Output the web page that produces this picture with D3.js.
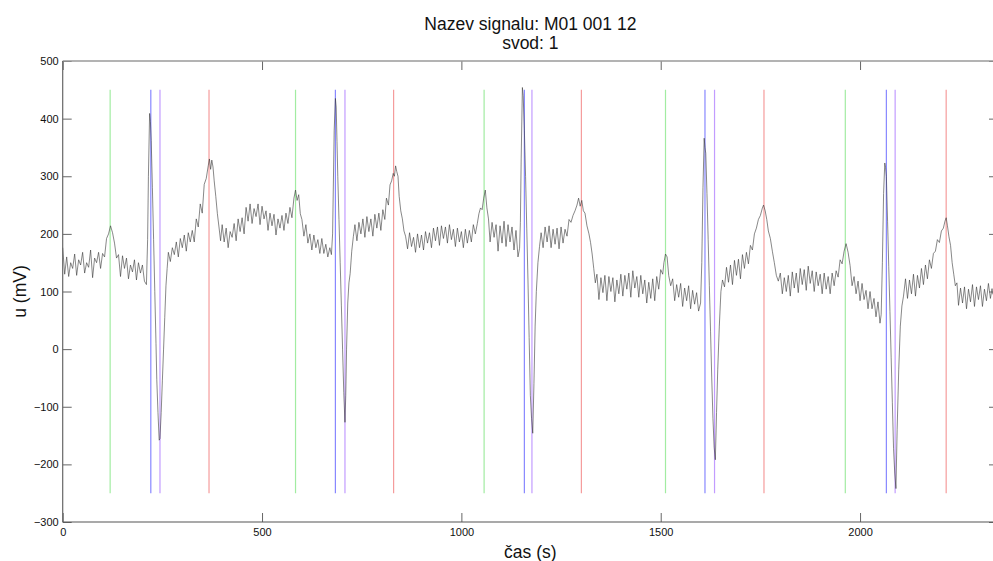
<!DOCTYPE html>
<html>
<head>
<meta charset="utf-8">
<script src="https://cdn.jsdelivr.net/npm/d3@7"></script>
<style>
  html, body { margin: 0; padding: 0; background: #fff; }
  svg { display: block; font-family: "Liberation Sans", Arial, Helvetica, sans-serif; }
</style>
</head>
<body>
<svg id="chart" width="993" height="561"></svg>
<script>
// ECG záznam: [čas (vzorky), u (mV)]
const signal = [
  [0,176],[5,130],[10,160],[15,126],[20,150],[25,140],[30,165],[35,128],[40,155],[45,146],
  [50,168],[55,132],[60,150],[65,142],[70,172],[75,124],[80,158],[85,150],[90,168],[95,140],
  [100,166],[105,160],[110,192],[115,200],[120,214],[125,202],[130,184],[135,158],[140,164],[145,126],
  [150,162],[155,140],[160,158],[165,122],[170,146],[175,134],[180,155],[185,120],[190,150],[195,132],
  [200,146],[205,118],[210,112],
  [213,190],[215,300],[218,409],[220,395],[222,362],[225,280],[228,190],[231,100],[234,10],[236,-53],
  [239,-110],[242,-158],[244,-155],[247,-110],[250,-55],[253,0],[256,55],[259,110],[262,140],
  [265,168],[270,152],[275,176],[280,164],[285,186],[290,160],[295,192],[300,176],[305,198],[310,170],
  [315,202],[320,186],[325,206],[330,186],[335,226],[340,212],[345,252],[350,236],[355,286],[360,296],
  [365,318],[368,330],[371,312],[374,328],[377,316],[380,292],[384,265],[388,235],[392,212],[396,188],
  [400,216],[405,186],[410,210],[415,176],[420,204],[425,194],[430,218],[435,188],[440,226],[445,204],
  [450,228],[455,200],[460,246],[465,222],[470,252],[475,218],[480,244],[485,230],[490,252],[495,216],
  [500,248],[505,226],[510,240],[515,206],[520,236],[525,214],[530,234],[535,198],[540,226],[545,210],
  [550,232],[555,206],[560,236],[565,218],[570,246],[575,228],[580,262],[584,276],[588,258],[592,268],
  [596,235],[600,225],[605,196],[610,216],[615,184],[620,200],[625,172],[630,198],[635,176],[640,190],
  [645,166],[650,192],[655,166],[660,182],[665,160],[670,176],[674,164],
  [677,200],[679,290],[681,380],[684,435],[686,420],[688,360],[690,300],[693,225],[696,150],[699,75],
  [702,0],[705,-75],[708,-127],[710,-80],[712,0],[715,80],[718,115],[721,131],[725,170],[729,195],
  [733,216],[738,188],[743,220],[748,200],[753,226],[758,194],[763,230],[768,204],[773,226],[778,196],
  [783,234],[788,210],[793,236],[798,206],[803,242],[808,225],
  [812,262],[817,250],[821,285],[825,292],[829,305],[832,300],[835,318],[838,308],[841,300],[844,265],
  [848,240],[852,226],[856,205],
  [860,196],[865,174],[870,202],[875,178],[880,194],[885,168],[890,200],[895,176],[900,198],[905,172],
  [910,204],[915,184],[920,202],[925,176],[930,210],[935,188],[940,212],[945,180],[950,214],[955,192],
  [960,212],[965,184],[970,216],[975,190],[980,208],[985,178],[990,210],[995,186],[1000,204],[1005,176],
  [1010,208],[1015,184],[1020,206],[1025,186],[1030,216],[1035,200],
  [1040,218],[1044,235],[1048,245],[1052,242],[1056,262],[1060,276],[1064,245],
  [1068,226],[1072,186],[1077,220],[1082,194],[1087,216],[1092,170],[1097,214],[1102,184],[1107,222],
  [1112,178],[1117,216],[1122,186],[1127,212],[1132,172],[1137,206],[1142,160],[1146,175],
  [1148,220],[1150,330],[1153,454],[1155,440],[1158,380],[1161,300],[1164,210],[1167,120],[1170,20],
  [1173,-80],[1176,-120],[1179,-146],[1182,-60],[1185,40],[1188,100],[1192,150],[1196,178],
  [1200,202],[1205,176],[1210,212],[1215,186],[1220,214],[1225,176],[1230,208],[1235,182],[1240,210],
  [1245,174],[1250,212],[1255,184],[1260,208],[1265,196],[1270,225],
  [1275,220],[1280,232],[1285,240],[1290,250],[1294,262],[1298,248],[1302,258],[1306,240],[1310,236],
  [1315,214],[1320,200],[1324,185],[1328,165],[1332,140],[1336,115],
  [1340,130],[1345,86],[1350,124],[1355,98],[1360,128],[1365,84],[1370,126],[1375,100],[1380,124],
  [1385,82],[1390,120],[1395,96],[1400,130],[1405,92],[1410,128],[1415,104],[1420,132],[1425,90],
  [1430,136],[1435,106],[1440,126],[1445,90],[1450,128],[1455,96],[1460,120],[1465,80],[1470,116],
  [1475,88],[1480,122],[1485,84],[1490,126],[1495,104],[1500,138],[1505,130],
  [1508,150],[1512,165],[1516,160],[1520,128],[1525,110],
  [1530,122],[1535,84],[1540,112],[1545,90],[1550,114],[1555,74],[1560,106],[1565,84],[1570,110],
  [1575,70],[1580,102],[1585,78],[1590,98],[1595,66],[1600,80],
  [1603,150],[1606,280],[1609,366],[1611,350],[1613,340],[1616,270],[1619,190],[1622,110],[1625,30],
  [1628,-50],[1631,-120],[1634,-170],[1637,-192],[1640,-110],[1643,-36],[1647,40],[1651,100],[1655,120],
  [1660,108],[1665,142],[1670,116],[1675,146],[1680,112],[1685,154],[1690,128],[1695,156],[1700,122],
  [1705,164],[1710,140],[1715,168],[1720,148],[1725,180],[1730,172],[1735,200],[1740,210],[1745,225],
  [1750,232],[1755,245],[1758,250],[1762,240],[1766,225],[1770,205],[1775,192],[1780,170],[1785,150],
  [1790,128],[1795,118],
  [1800,132],[1805,96],[1810,124],[1815,100],[1820,128],[1825,92],[1830,134],[1835,106],[1840,132],
  [1845,98],[1850,140],[1855,112],[1860,138],[1865,102],[1870,144],[1875,114],[1880,136],[1885,100],
  [1890,134],[1895,110],[1900,130],[1905,96],[1910,132],[1915,104],[1920,126],[1925,96],[1930,132],
  [1935,110],[1940,136],[1945,125],
  [1950,155],[1955,148],[1960,170],[1965,183],[1970,168],[1975,145],[1980,110],
  [1985,126],[1990,96],[1995,118],[2000,84],[2005,114],[2010,86],[2015,102],[2020,70],[2025,100],
  [2030,70],[2035,88],[2040,56],[2045,82],[2050,45],[2053,60],
  [2056,150],[2059,270],[2062,323],[2064,315],[2066,300],[2069,222],[2072,143],[2075,65],[2078,-14],
  [2081,-93],[2084,-172],[2087,-215],[2090,-242],[2093,-140],[2097,-36],[2101,40],[2105,75],[2109,92],
  [2114,122],[2119,88],[2124,120],[2129,96],[2134,130],[2139,92],[2144,128],[2149,106],[2154,140],
  [2159,112],[2164,146],[2169,122],[2174,155],[2179,140],[2184,166],[2189,170],[2194,190],[2199,185],
  [2204,205],[2209,210],[2213,222],[2216,228],[2219,215],[2223,195],[2227,180],[2231,150],[2235,130],
  [2239,110],
  [2243,115],[2247,76],[2252,106],[2257,80],[2262,108],[2267,70],[2272,104],[2277,82],[2282,112],
  [2287,74],[2292,108],[2297,86],[2302,110],[2307,74],[2312,104],[2317,84],[2322,114],[2327,88],
  [2331,105],[2333,95]
];

// Detekované body: začátek P, začátek QRS, konec QRS, konec T
const pVlnaZacatek = [119, 584, 1057, 1512, 1963];
const qrsZacatek   = [221, 684, 1158, 1611, 2066];
const qrsKonec     = [244, 708, 1177, 1635, 2088];
const tVlnaKonec   = [367, 830, 1301, 1759, 2216];
const znackaRozsah = [-250, 450];

const xTicks = [0, 500, 1000, 1500, 2000];
const yTicks = [-300, -200, -100, 0, 100, 200, 300, 400, 500];
const xDomain = [0, 2346];
const yDomain = [-300, 500];

const titleLines = ["Nazev signalu: M01 001 12", "svod: 1"];
const xLabel = "čas (s)";
const yLabel = "u (mV)";

// --- rozvržení ---
const mLeft = 62.7, mRight = 998, mTop = 61, mBottom = 522;
const svg = d3.select("#chart");

const x = d3.scaleLinear().domain(xDomain).range([mLeft, mRight]);
const y = d3.scaleLinear().domain(yDomain).range([mBottom, mTop]);

// svislé značky
const markerSets = [
  { data: pVlnaZacatek, color: "#a2eca2" },
  { data: qrsZacatek,   color: "#8888ff" },
  { data: qrsKonec,     color: "#c29cff" },
  { data: tVlnaKonec,   color: "#f59c9c" }
];
const gMarks = svg.append("g");
markerSets.forEach(s => {
  gMarks.selectAll(null).data(s.data).enter().append("line")
    .attr("x1", d => x(d)).attr("x2", d => x(d))
    .attr("y1", y(znackaRozsah[0])).attr("y2", y(znackaRozsah[1]))
    .attr("stroke", s.color).attr("stroke-width", 1.2);
});

// signál
const line = d3.line().x(d => x(d[0])).y(d => y(d[1]));
svg.append("path").datum(signal)
  .attr("d", line)
  .attr("fill", "none")
  .attr("stroke", "#383838")
  .attr("stroke-width", 0.6)
  .attr("stroke-linejoin", "round");

// osy (značky dovnitř)
const tickCol = "#666";
function styleAxis(g, labels) {
  g.select(".domain").remove();
  g.selectAll(".tick line").attr("stroke", tickCol).attr("stroke-width", 1);
  g.selectAll(".tick text").attr("fill", "#111").attr("font-size", "11px");
  if (!labels) g.selectAll(".tick text").remove();
}
svg.append("g").attr("transform", `translate(0,${mBottom})`)
  .call(d3.axisBottom(x).tickValues(xTicks).tickSize(-9).tickPadding(6).tickFormat(d3.format("d")))
  .call(g => styleAxis(g, true));
svg.append("g").attr("transform", `translate(0,${mTop})`)
  .call(d3.axisTop(x).tickValues(xTicks).tickSize(-9))
  .call(g => styleAxis(g, false));
svg.append("g").attr("transform", `translate(${mLeft},0)`)
  .call(d3.axisLeft(y).tickValues(yTicks).tickSize(-9).tickPadding(4).tickFormat(d3.format("d")))
  .call(g => styleAxis(g, true));
svg.append("g").attr("transform", `translate(${mRight},0)`)
  .call(d3.axisRight(y).tickValues(yTicks).tickSize(-9))
  .call(g => styleAxis(g, false));

// rámeček
svg.append("line").attr("x1", mLeft).attr("x2", mRight).attr("y1", mTop).attr("y2", mTop)
  .attr("stroke", "#9a9a9a").attr("stroke-width", 1.5);
svg.append("line").attr("x1", mLeft).attr("x2", mRight).attr("y1", mBottom).attr("y2", mBottom)
  .attr("stroke", "#555").attr("stroke-width", 1.2);
svg.append("line").attr("x1", mLeft).attr("x2", mLeft).attr("y1", mTop).attr("y2", mBottom)
  .attr("stroke", "#666").attr("stroke-width", 1.2);
svg.append("line").attr("x1", mRight).attr("x2", mRight).attr("y1", mTop).attr("y2", mBottom)
  .attr("stroke", "#666").attr("stroke-width", 1.2);

// nadpis a popisky
const cx = (mLeft + mRight) / 2;
svg.append("text").attr("x", cx).attr("y", 30).attr("text-anchor", "middle")
  .attr("font-size", "17.5px").attr("fill", "#111").text(titleLines[0]);
svg.append("text").attr("x", cx).attr("y", 49).attr("text-anchor", "middle")
  .attr("font-size", "17.5px").attr("fill", "#111").text(titleLines[1]);
svg.append("text").attr("x", cx).attr("y", 558).attr("text-anchor", "middle")
  .attr("font-size", "17.5px").attr("fill", "#111").text(xLabel);
svg.append("text").attr("transform", `translate(26,${(mTop + mBottom) / 2}) rotate(-90)`)
  .attr("text-anchor", "middle").attr("font-size", "17.5px").attr("fill", "#111").text(yLabel);
</script>
</body>
</html>
